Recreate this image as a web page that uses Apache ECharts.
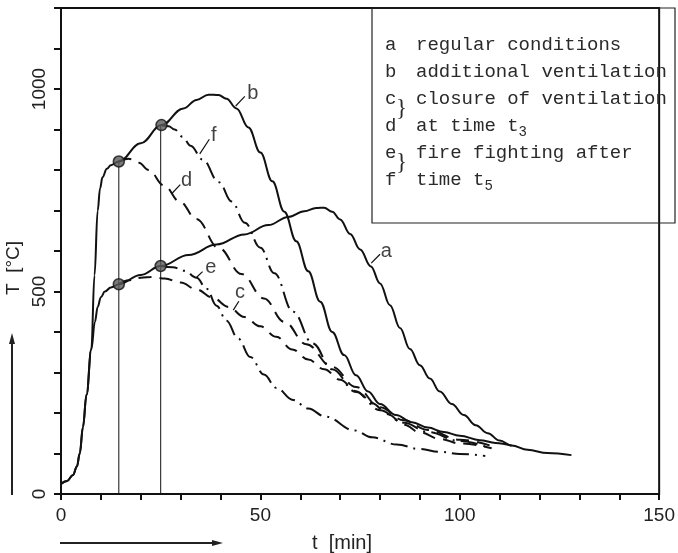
<!DOCTYPE html>
<html><head><meta charset="utf-8">
<script src="https://cdn.jsdelivr.net/npm/echarts@6/dist/echarts.min.js"></script>
<style>html,body{margin:0;padding:0;background:#fff}#c{width:678px;height:553px}</style>
</head><body><div id="c"></div>
<script>
// ---- data (t [min], T [°C]) ----
const curveA = [[0,25],[1.5,32],[3,47],[4,68],[4.7,100],[5.5,165],[6.4,245],[7.6,357],[8.5,425],[9.2,462],[10,486],[11,500],[12.5,510],[14.5,518],[20,541],[25,563],[32,590],[39,616],[46,641],[52,664],[57,684],[61,698],[64,706],[66,707],[68,697],[70,678],[72.5,642],[75,604],[77.7,562],[80,520],[82.5,466],[85,410],[87.5,358],[90,318],[92.5,285],[95,253],[98,222],[101,195],[104,170],[107,150],[110,132],[113,120],[117,109],[122,101],[128,96]];
const curveB = [[0,25],[1.5,32],[3,47],[4,68],[4.7,100],[5.5,165],[6.4,245],[7.6,357],[8.4,540],[9.2,700],[9.8,755],[10.4,782],[11.5,803],[12.5,812],[14.5,821],[20,866],[25.2,911],[30.7,952],[34,973],[37,986],[39.5,985],[41.5,976],[44,952],[47,905],[50,843],[53,772],[56,697],[59,624],[62,550],[65,475],[68,400],[71,343],[74,293],[77,253],[80,222],[84,195],[88,177],[92,164],[96,153],[100,144],[105,133],[109,126],[113,119]];
const curveC = [[14.5,518],[17,528],[20,534],[23,536],[26,532],[30,522],[34,505],[38,485],[42,462],[46,437],[50,414],[54,388],[58,357],[62,332],[66,308],[70,282],[74,254],[78,224],[82,197],[86,171],[90,152],[95,136],[100,125],[108,113]];
const curveD = [[14.5,821],[16.9,828],[19.5,818],[22,800],[25.8,762],[29.9,721],[33.9,679],[39.6,607],[45.3,543],[50.9,483],[56,425],[61.5,370],[68,314],[74,264],[80,214],[86,182],[92,158],[100,134],[108.5,117]];
const curveE = [[25,563],[28,560],[31,551],[34,534],[36.5,507],[39,465],[41.5,428],[44.4,384],[47.5,338],[50.9,295],[54,262],[58.2,232],[62,211],[66.3,191],[73.6,157],[78,140],[84.2,122],[90,111],[95,104],[100,99],[106.4,94]];
const curveF = [[25.2,911],[27,908],[28.5,900],[30.5,882],[32.5,860],[35.5,826],[39.6,770],[42.8,722],[46.1,670],[50,608],[53.5,545],[58.2,450],[63.1,372],[68,308],[74,252],[80,207],[86,176],[92,153],[100,131],[107,115]];
const switchPoints = [[14.5,518],[14.5,821],[25,563],[25.2,911]];
const timeT3 = 14.5, timeT5 = 25;
const curveLabels = [['a',81.6,600],['b',48.1,990],['c',44.9,497],['d',31.5,775],['e',37.6,560],['f',38.3,884]];
const leaders = [[[77.8,570],[80,592]],[[43.8,958],[46.1,982]],[[43.2,454],[44.6,476]],[[27.8,742],[29.9,764]],[[33.9,534],[35.5,549]],[[34.8,840],[37.2,876]]];
const legendKeys = ['a','b','c','d','e','f'];
const legendTexts = ['regular conditions','additional ventilation','closure of ventilation','at time t','fire fighting after','time t'];
const legendSubs = {3:'3',5:'5'};
const bracedKeys = [2,4];
const xTicks = [0,50,100,150];
const yTicks = [0,500,1000];

const chart = echarts.init(document.getElementById('c'), null, {renderer:'canvas'});
const solid = {color:'#111', width:2, type:'solid'};
const dashed = {color:'#111', width:2, type:[13,8]};
const dashdot = {color:'#111', width:2, type:[17,6,2,6]};
function lineSeries(data, ls){
  return {type:'line', data:data, showSymbol:false, symbol:'none', smooth:0.4, smoothMonotone:'x', lineStyle:ls, silent:true, z:3};
}
const graphics = [];
graphics.push({type:'rect', shape:{x:372,y:8,width:303,height:215}, style:{fill:null, stroke:'#222', lineWidth:1.2}, z:10});
const mono = '"Liberation Mono", "DejaVu Sans Mono", monospace';
const fs = 19, cw = fs*0.6;
legendKeys.forEach((k,i)=>{
  const y = 45 + 27*i;
  graphics.push({type:'text', style:{text:k, x:385, y:y, font:fs+'px '+mono, fill:'#2a2a2a', verticalAlign:'middle'}, z:10});
  graphics.push({type:'text', style:{text:legendTexts[i], x:416, y:y, font:fs+'px '+mono, fill:'#2a2a2a', verticalAlign:'middle'}, z:10});
  if (legendSubs[i]) {
    graphics.push({type:'text', style:{text:legendSubs[i], x:416+legendTexts[i].length*cw, y:y+6, font:'14px '+mono, fill:'#2a2a2a', verticalAlign:'middle'}, z:10});
  }
});
bracedKeys.forEach(i=>{
  const y = 45 + 27*i + 10;
  graphics.push({type:'text', style:{text:'}', x:396, y:y, font:'23px "Liberation Serif"', fill:'#2a2a2a', verticalAlign:'middle'}, z:10});
});
graphics.push({type:'text', rotation:Math.PI/2, x:14, y:268, style:{text:'T  [°C]', x:0, y:0, font:'19px "Liberation Sans"', fill:'#222', align:'center', verticalAlign:'middle'}});
graphics.push({type:'line', shape:{x1:12,y1:495,x2:12,y2:340}, style:{stroke:'#222', lineWidth:2}});
graphics.push({type:'polygon', shape:{points:[[12,333],[9,344],[15,344]]}, style:{fill:'#222'}});
graphics.push({type:'text', style:{text:'t  [min]', x:342, y:543, font:'20px "Liberation Sans"', fill:'#222', align:'center', verticalAlign:'middle'}});
graphics.push({type:'line', shape:{x1:60,y1:543,x2:215,y2:543}, style:{stroke:'#222', lineWidth:2}});
graphics.push({type:'polygon', shape:{points:[[223,543],[212,540],[212,546]]}, style:{fill:'#222'}});

chart.setOption({
  animation:false,
  backgroundColor:'#fff',
  grid:{left:61, right:3, top:8, bottom:59, show:true, borderColor:'#111', borderWidth:2, backgroundColor:'transparent'},
  xAxis:{type:'value', min:0, max:150, interval:10,
    axisLine:{show:true, lineStyle:{color:'#111', width:2}},
    axisTick:{show:true, inside:false, length:6, lineStyle:{color:'#111', width:2}},
    splitLine:{show:false},
    axisLabel:{showMaxLabel:true, margin:12, fontSize:19, fontFamily:'Liberation Sans', color:'#222',
      formatter:v=> xTicks.indexOf(v)>=0 ? String(v) : ''}},
  yAxis:{type:'value', min:0, max:1200, interval:100,
    axisLine:{show:true, lineStyle:{color:'#111', width:2}},
    axisTick:{show:true, inside:false, length:7, lineStyle:{color:'#111', width:2}},
    splitLine:{show:false},
    axisLabel:{rotate:90, margin:12, fontSize:19, fontFamily:'Liberation Sans', color:'#222',
      formatter:v=> yTicks.indexOf(v)>=0 ? String(v) : ''}},
  graphic:graphics,
  series:[
    lineSeries(curveA, solid),
    lineSeries(curveB, solid),
    lineSeries(curveC, dashed),
    lineSeries(curveD, dashed),
    lineSeries(curveE, dashdot),
    lineSeries(curveF, dashdot),
    {type:'line', data:[[timeT3,0],[timeT3,821]], showSymbol:false, lineStyle:{color:'#111', width:1}, z:2},
    {type:'line', data:[[timeT5,0],[timeT5,911]], showSymbol:false, lineStyle:{color:'#111', width:1}, z:2},
    {type:'scatter', data:switchPoints, symbol:'circle', symbolSize:11, itemStyle:{color:'#5a5a5a', borderColor:'#111', borderWidth:1.5}, z:5},
    {type:'lines', coordinateSystem:'cartesian2d', data:leaders.map(s=>({coords:s})), lineStyle:{color:'#111', width:1.2, opacity:1}, z:4},
    {type:'scatter', data:curveLabels.map(l=>({name:l[0], value:[l[1],l[2]]})), symbolSize:2, itemStyle:{color:'rgba(0,0,0,0)'},
      label:{show:true, position:'inside', formatter:'{b}', fontSize:20, fontFamily:'Liberation Sans', color:'#111'}, z:6}
  ]
});
</script></body></html>
